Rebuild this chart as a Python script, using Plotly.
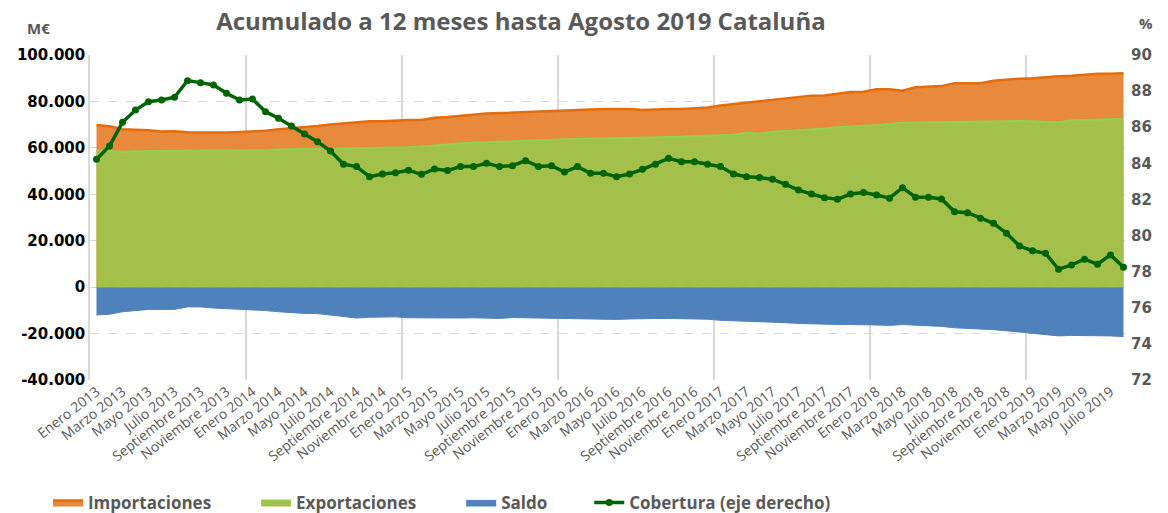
import plotly.graph_objects as go

meses = ["Enero", "Febrero", "Marzo", "Abril", "Mayo", "Junio", "Julio",
         "Agosto", "Septiembre", "Octubre", "Noviembre", "Diciembre"]
anios = [2013, 2014, 2015, 2016, 2017, 2018, 2019]
categorias = [f"{m} {a}" for a in anios for m in meses][:80]

importaciones = [
    69800, 69300, 68000, 67800, 67600, 67000, 67200, 66700, 66600, 66600,
    66600, 66800, 67000, 67400, 68000, 68400, 68800, 69400, 70100, 70600,
    71000, 71500, 71500, 71800, 72000, 72000, 73000, 73300, 73900, 74500,
    74800, 75000, 75200, 75500, 75900, 76100, 76300, 76300, 76600, 76700,
    76700, 76700, 76300, 76600, 76700, 76700, 77100, 77400, 78200, 78800,
    79700, 80200, 80600, 81300, 82000, 82500, 82600, 83500, 84100, 84200,
    85200, 85200, 84600, 86100, 86200, 86600, 87800, 87800, 87800, 88900,
    89500, 89800, 90000, 90500, 90900, 91100, 91500, 91900, 91900, 92100]

exportaciones = [
    59000, 58600, 58300, 58500, 58700, 58700, 58750, 58750, 58750, 58750,
    58750, 58750, 58800, 59000, 59300, 59400, 59500, 59500, 59550, 59600,
    59700, 59900, 60100, 60200, 60300, 60600, 60900, 61400, 62000, 62300,
    62500, 62600, 62800, 63100, 63300, 63500, 63700, 63800, 63900, 64000,
    64100, 64100, 64300, 64500, 64600, 64800, 65100, 65400, 65600, 65700,
    66500, 66100, 66900, 67200, 67700, 67900, 68300, 68900, 69100, 69400,
    69800, 70300, 70800, 70900, 71000, 71200, 71400, 71500, 71600, 71600,
    71600, 71600, 71500, 71300, 71000, 71800, 72000, 72300, 72600, 72500]

saldo = [
    -12000, -11700, -10600, -10000, -9600, -9600, -9600, -8500, -8500, -9000,
    -9200, -9600, -9600, -10100, -10600, -11000, -11300, -11400, -12000, -12700,
    -13300, -13000, -12900, -12800, -13200, -13300, -13200, -13400, -13300, -13200,
    -13500, -13500, -13100, -13200, -13500, -13700, -13600, -13800, -13900, -13900,
    -13900, -13700, -13500, -13500, -13500, -13500, -13600, -13800, -14300, -14500,
    -14600, -14650, -15000, -15300, -15650, -15900, -16100, -16100, -16100, -16100,
    -16300, -16500, -16100, -16400, -16600, -16900, -17500, -17700, -18000, -18300,
    -18800, -19400, -19900, -20300, -21000, -20800, -20800, -20800, -21000, -21300]

cobertura = [
    84.22, 84.96, 86.27, 86.95, 87.41, 87.51, 87.66, 88.58, 88.47, 88.34,
    87.88, 87.51, 87.56, 86.86, 86.50, 86.07, 85.63, 85.20, 84.68, 83.95,
    83.82, 83.26, 83.41, 83.48, 83.62, 83.39, 83.69, 83.60, 83.82, 83.82,
    84.00, 83.82, 83.87, 84.15, 83.82, 83.87, 83.52, 83.82, 83.45, 83.45,
    83.26, 83.41, 83.67, 83.95, 84.28, 84.09, 84.09, 83.95, 83.82, 83.41,
    83.26, 83.21, 83.12, 82.84, 82.52, 82.30, 82.10, 82.01, 82.30, 82.38,
    82.25, 82.07, 82.65, 82.12, 82.12, 82.03, 81.32, 81.27, 80.96, 80.68,
    80.13, 79.42, 79.16, 79.02, 78.13, 78.37, 78.69, 78.41, 78.93, 78.25]

y_ticks = [-40000, -20000, 0, 20000, 40000, 60000, 80000, 100000]
y_ticktext = ["-40.000", "-20.000", "0", "20.000", "40.000", "60.000", "80.000", "100.000"]
y2_ticks = [72, 74, 76, 78, 80, 82, 84, 86, 88, 90]

x = list(range(len(categorias)))
gray = "#595959"
grid = "#D9D9D9"

fig = go.Figure()
fig.add_trace(go.Scatter(
    x=x, y=importaciones, name="Importaciones", mode="lines",
    line=dict(color="#E46C0A", width=2.5), fill="tozeroy", fillcolor="#E8893B",
    legend="legend", showlegend=True))
fig.add_trace(go.Scatter(
    x=x, y=exportaciones, name="Exportaciones", mode="lines",
    line=dict(color="#92D050", width=2), fill="tozeroy", fillcolor="#A3C14A",
    legend="legend2", showlegend=True))
fig.add_trace(go.Scatter(
    x=x, y=saldo, name="Saldo", mode="lines",
    line=dict(color="#4F81BD", width=1), fill="tozeroy", fillcolor="#4F81BD",
    legend="legend3", showlegend=True))
fig.add_trace(go.Scatter(
    x=x, y=cobertura, name="Cobertura (eje derecho)", mode="lines+markers",
    line=dict(color="#006400", width=3.5), marker=dict(color="#006400", size=7),
    yaxis="y2", legend="legend4", showlegend=True))

legend_font = dict(family="Open Sans", size=17, color=gray, weight="bold")
def leg(xpos):
    return dict(x=xpos, y=-0.378, xanchor="left", yanchor="middle",
                orientation="h", font=legend_font, bgcolor="rgba(0,0,0,0)",
                borderwidth=0)

fig.update_layout(
    width=1168, height=513,
    showlegend=True,
    margin=dict(l=90, r=38, t=55, b=133, autoexpand=False),
    paper_bgcolor="white", plot_bgcolor="white",
    title=dict(text="<b>Acumulado a 12 meses hasta Agosto 2019 Cataluña</b>",
               x=0.446, xanchor="center", y=0.957, yanchor="middle",
               font=dict(family="Open Sans", size=24, color=gray)),
    xaxis=dict(
        range=[-0.5, 79.5], tickmode="array", tickvals=x[::2],
        ticktext=categorias[::2], tickangle=-38,
        tickfont=dict(family="Open Sans", size=14, color=gray),
        showgrid=False, zeroline=False, showline=False, ticks="",
        minor=dict(tickmode="array", tickvals=[11.5, 23.5, 35.5, 47.5, 59.5, 71.5],
                   showgrid=True, gridcolor=grid, gridwidth=1.5, ticks=""),
    ),
    yaxis=dict(
        range=[-40000, 100000], tickmode="array", tickvals=y_ticks,
        ticktext=y_ticktext,
        tickfont=dict(family="DejaVu Sans", size=15, color="#000000", weight="bold"),
        showgrid=True, gridcolor=grid, griddash="dash", gridwidth=1,
        zeroline=False, showline=True, linecolor=grid, linewidth=1.5, ticks="",
    ),
    yaxis2=dict(
        range=[72, 90], tickmode="array", tickvals=y2_ticks,
        overlaying="y", side="right", showgrid=False, zeroline=False,
        tickfont=dict(family="DejaVu Sans", size=15, color=gray, weight="bold"),
        ticks="",
    ),
    legend=leg(-0.0404),
    legend2=leg(0.1597),
    legend3=leg(0.3569),
    legend4=leg(0.48),
    annotations=[
        dict(text="<b>M€</b>", xref="paper", yref="paper", x=-0.05, y=1.083,
             xanchor="center", yanchor="middle", showarrow=False,
             font=dict(family="Open Sans", size=15, color=gray)),
        dict(text="<b>%</b>", xref="paper", yref="paper", x=1.015, y=1.098,
             xanchor="center", yanchor="middle", showarrow=False,
             font=dict(family="Open Sans", size=15, color=gray)),
    ],
)

fig.write_html("out.html", config={"displayModeBar": False},
               post_script="document.body.style.margin='0';document.body.style.padding='0';")
